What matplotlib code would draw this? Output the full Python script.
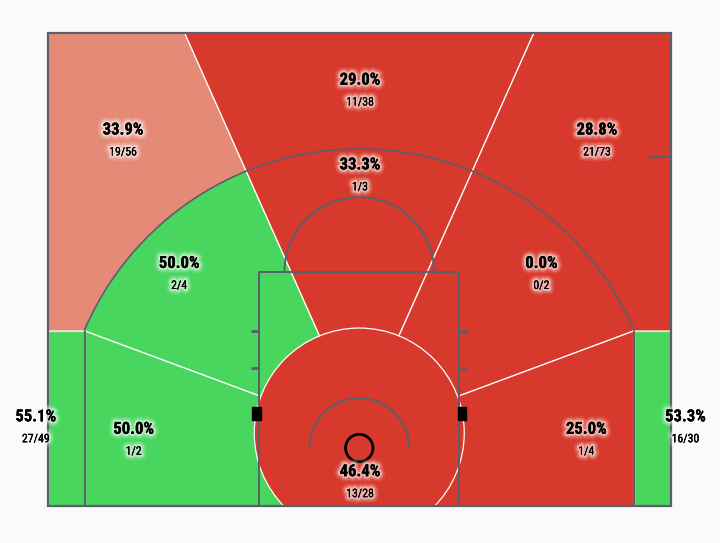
import numpy as np
import matplotlib
matplotlib.use('Agg')
import matplotlib.pyplot as plt
import matplotlib.patheffects as pe
from matplotlib.patches import Polygon, Circle, Arc, Rectangle
from matplotlib.path import Path

plt.rcParams['font.family'] = ['Roboto Condensed', 'Barlow Condensed', 'Roboto', 'DejaVu Sans']

# shooting zones, values as printed on the chart
zones = ['mid_base_l', 'mid_base_r', 'mid_wing_l', 'mid_wing_r', 'mid_center',
         'three_wing_l', 'three_center', 'three_wing_r', 'paint', 'corner_l', 'corner_r']
pct = [50.0, 25.0, 50.0, 0.0, 33.3, 33.9, 29.0, 28.8, 46.4, 55.1, 53.3]
made = [1, 1, 2, 0, 1, 19, 11, 21, 13, 27, 16]
attempts = [2, 4, 4, 2, 3, 56, 38, 73, 28, 49, 30]

GREEN = '#48d65e'
RED = '#d7392c'
SALMON = '#e58a77'
fills = [GREEN, RED, GREEN, RED, RED, SALMON, RED, RED, RED, GREEN, GREEN]

# label anchors in feet
label_x = [-18.1, 18.2, -14.45, 14.6, 0.05, -18.95, 0.05, 19.05, 0.05, -25.95, 26.15]
label_y = [6.15, 6.15, 19.45, 19.45, 27.35, 30.15, 34.15, 30.15, 2.75, 7.15, 7.15]

LINE = '#5b5f6c'
BG = '#f9fafc'
W, H = 50, 37.93
HOOP_Y, BREAK_Y = 4.65, 14.03
ARC_R = 23.98

fig = plt.figure(figsize=(7.2, 5.43), dpi=100, facecolor=BG)
ax = fig.add_axes([47.5 / 720, 37 / 543, 623.5 / 720, 473 / 543])
ax.set_xlim(-W / 2, W / 2)
ax.set_ylim(0, H)
ax.axis('off')

# the upper and lower zone rays do not quite meet in one point
c_up = (0, 6.5)
c_low = (0, 5.85)
wedge_l = [c_up, (-14, H), (-25, H), (-25, BREAK_Y), (-22, BREAK_Y), c_low]
wedge_c = [c_up, (-14, H), (14, H)]
wedge_r = [c_up, (14, H), (25, H), (25, BREAK_Y), (22, BREAK_Y), c_low]
base_l = [c_low, (-22, BREAK_Y), (-22, 0), (0, 0)]
base_r = [c_low, (22, BREAK_Y), (22, 0), (0, 0)]

# inside of the three point line, used to clip the mid range zones
tb = np.arctan2(BREAK_Y - HOOP_Y, 22)
t = np.linspace(tb, np.pi - tb, 200)
inside = np.column_stack([ARC_R * np.cos(t), HOOP_Y + ARC_R * np.sin(t)])
inside = np.vstack([[22, 0], inside, [-22, 0]])
inside_path = Path(np.vstack([inside, inside[0]]), closed=True)

shapes = {'three_wing_l': wedge_l, 'three_center': wedge_c, 'three_wing_r': wedge_r,
          'mid_wing_l': wedge_l, 'mid_center': wedge_c, 'mid_wing_r': wedge_r,
          'mid_base_l': base_l, 'mid_base_r': base_r}

# three point zones go first, the mid range sits on top
order = ['three_wing_l', 'three_center', 'three_wing_r',
         'mid_wing_l', 'mid_center', 'mid_wing_r', 'mid_base_l', 'mid_base_r']
for name in order:
    col = fills[zones.index(name)]
    p = Polygon(shapes[name], closed=True, facecolor=col, edgecolor='white', lw=0.9, zorder=1)
    ax.add_patch(p)
    if name.startswith('mid'):
        p.set_clip_path(inside_path, ax.transData)

ax.add_patch(Rectangle((-25, 0), 3, BREAK_Y, facecolor=fills[zones.index('corner_l')], edgecolor='#f3ddd6', lw=0.9, zorder=2))
ax.add_patch(Rectangle((22, 0), 3, BREAK_Y, facecolor=fills[zones.index('corner_r')], edgecolor='#f3ddd6', lw=0.9, zorder=2))
ax.add_patch(Circle((0, 5.85), 8.42, facecolor=fills[zones.index('paint')], edgecolor='white', lw=0.9, zorder=2))

# court lines
lk = dict(color=LINE, lw=1.4, zorder=3, solid_capstyle='butt')
ax.plot([-22, -22], [0, BREAK_Y], **lk)
ax.plot([22, 22], [0, BREAK_Y], **lk)
ax.add_patch(Arc((0, HOOP_Y), 2 * ARC_R, 2 * ARC_R, theta1=np.degrees(tb), theta2=180 - np.degrees(tb), color=LINE, lw=1.2, zorder=3))
ax.plot([-8, -8, 8, 8], [0, 18.77, 18.77, 0], **lk)
ax.add_patch(Arc((0, 18.77), 12, 12, theta1=0, theta2=180, color=LINE, lw=1.4, zorder=3))
ax.add_patch(Arc((0, HOOP_Y), 8, 8, theta1=0, theta2=180, color=LINE, lw=1.4, zorder=3))
ax.plot([23.05, 25], [27.97, 27.97], **lk)
for hy in [14.0, 11.03]:
    ax.plot([-8.65, -8], [hy, hy], color=LINE, lw=2, zorder=3, solid_capstyle='butt')
    ax.plot([8, 8.65], [hy, hy], color=LINE, lw=2, zorder=3, solid_capstyle='butt')
ax.add_patch(Rectangle((-8.6, 6.9), 0.72, 1.04, color='black', zorder=4, clip_on=False))
ax.add_patch(Rectangle((7.88, 6.9), 0.72, 1.04, color='black', zorder=4, clip_on=False))
ax.add_patch(Circle((0, HOOP_Y), 1.1, fill=False, edgecolor='black', lw=2, zorder=4))
ax.add_patch(Rectangle((-25, 0), 50, H, fill=False, edgecolor=LINE, lw=1.6, zorder=5, clip_on=False))

glow = [pe.withStroke(linewidth=8, foreground='white', alpha=0.1),
        pe.withStroke(linewidth=5.5, foreground='white', alpha=0.2),
        pe.withStroke(linewidth=3, foreground='white', alpha=0.45),
        pe.Normal()]
for i in range(len(zones)):
    ax.text(label_x[i], label_y[i], f'{pct[i]:.1f}%', ha='center', va='center', fontsize=12,
            fontweight='bold', color='black', zorder=6, path_effects=glow)
    ax.text(label_x[i], label_y[i] - 1.76, f'{made[i]}/{attempts[i]}', ha='center', va='center',
            fontsize=8.5, color='black', zorder=6, path_effects=glow)

fig.savefig('out.png', dpi=100, facecolor=BG)
